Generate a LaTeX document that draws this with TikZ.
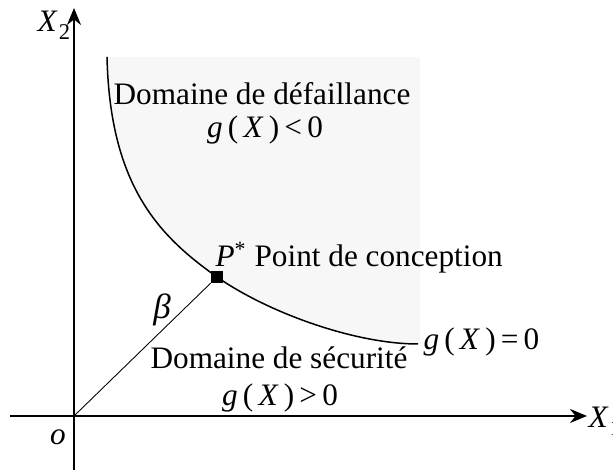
\documentclass[tikz,border=0pt]{standalone}
\usepackage{fontspec}
\setmainfont{Liberation Serif}
\usetikzlibrary{arrows.meta}

\newcommand{\gX}[1]{\textit{g}\,(\,\textit{X}\,)\,#1\,0}
\newcommand{\vX}[1]{\textit{X}\kern0.5pt\raisebox{-3.2pt}{\fontsize{9pt}{9pt}\selectfont #1}}

\begin{document}
\begin{tikzpicture}[x=0.4pt,y=0.4pt,
  font=\fontsize{12.5pt}{15pt}\selectfont,
  axe/.style={line width=0.8pt,-{Stealth[length=6.8pt,width=5.6pt]}},
  txt/.style={inner sep=0pt}]
\useasboundingbox (-74,-54) rectangle (539,416);

\coordinate (o) at (0,0);
\coordinate (xa) at (-64,0);
\coordinate (xb) at (513,0);
\coordinate (ya) at (0,-54);
\coordinate (yb) at (0,408);
\coordinate (A) at (33,359);
\coordinate (p) at (143,139);
\coordinate (E) at (344,72);

% domaine de defaillance
\fill[gray!6] (A) -- (346,359) -- (346,72) -- (E)
  .. controls (280,72) and (193,104) .. (p)
  .. controls (85,180) and (36,230) .. (A) -- cycle;

% etat limite
\draw[line width=0.6pt] (A) .. controls (36,230) and (85,180) .. (p)
  .. controls (193,104) and (280,72) .. (E);

\draw[axe] (xa) -- (xb);
\draw[axe] (ya) -- (yb);

\node[txt,fill=black,minimum size=4.6pt] (P) at (p) {};
\draw[line width=0.35pt] (o) -- (P);

\node[txt,anchor=base west] (X2) at (-37,384) {\vX{2}};
\node[txt,anchor=base west] (X1) at (514,-12) {\vX{1}};
\node[txt,anchor=base] (O) at (-16,-29) {\textit{o}};
\node[txt,font=\fontsize{14pt}{16pt}\selectfont] (beta) at (88,106) {\textit{β}};

\node[txt,anchor=base] (D1) at (188,311) {Domaine de défaillance};
\node[txt,anchor=base] (g1) at (191,278) {\gX{<}};
\node[txt,anchor=base west] (pc) at (141,149) {\textit{P}\textsuperscript{*} Point de conception};
\node[txt,anchor=base] (D2) at (205,47) {Domaine de sécurité};
\node[txt,anchor=base] (g2) at (206,10) {\gX{>}};
\node[txt,anchor=base west] (g0) at (349,66) {\gX{=}};
\end{tikzpicture}
\end{document}
